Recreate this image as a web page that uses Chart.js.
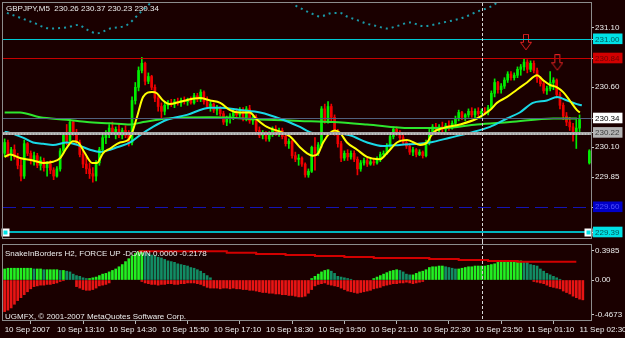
<!DOCTYPE html>
<html>
<head>
<meta charset="utf-8">
<script src="https://cdn.jsdelivr.net/npm/chart.js@4.4.1/dist/chart.umd.min.js"></script>
<style>
  html, body { margin: 0; padding: 0; background: #1a0000; }
  #wrap { position: relative; width: 625px; height: 338px; overflow: hidden; background: #1a0000; }
  canvas { position: absolute; left: 0; }
  #main { top: 0; }
  #ind { top: 241px; }
  .txt { position: absolute; font: 8px "Liberation Sans", Arial, sans-serif; color: #ececec; white-space: pre; line-height: 9px; }
</style>
</head>
<body>
<div id="wrap">
  <canvas id="main" width="625" height="241"></canvas>
  <canvas id="ind" width="625" height="97"></canvas>
  <div class="txt" style="left:6px; top:4px;">GBPJPY,M5  230.26 230.37 230.23 230.34</div>
  <div class="txt" style="left:5px; top:249px;">SnakeInBorders H2, FORCE UP -DOWN 0.0000 -0.2178</div>
  <div class="txt" style="left:5px; top:312px;">UGMFX, © 2001-2007 MetaQuotes Software Corp.</div>
</div>
<script>
// --- data (GBPJPY, M5, one bar every 5 minutes from 10 Sep 11:50) ---
const barCount = 180;
const tickBars = [0, 16, 32, 48, 64, 80, 96, 112, 128, 144, 160, 176];
const tickLabels = ["10 Sep 2007", "10 Sep 13:10", "10 Sep 14:30", "10 Sep 15:50", "10 Sep 17:10", "10 Sep 18:30",
  "10 Sep 19:50", "10 Sep 21:10", "10 Sep 22:30", "10 Sep 23:50", "11 Sep 01:10", "11 Sep 02:30"];
const separatorBar = 146; // 11 Sep 00:00

const opens = [
  230.05,230.14,230.04,230.08,230.02,229.95,229.86,230.13,230.05,229.99,
  230.03,229.95,229.99,229.93,229.96,229.91,229.86,229.92,230.07,230.20,
  230.15,230.31,230.22,230.14,230.04,229.96,229.92,229.88,229.86,229.97,
  230.08,230.18,230.22,230.26,230.23,230.25,230.20,230.24,230.20,230.14,
  230.49,230.60,230.74,230.80,230.65,230.69,230.60,230.51,230.44,230.40,
  230.45,230.47,230.46,230.48,230.47,230.49,230.48,230.50,230.47,230.53,
  230.50,230.56,230.48,230.44,230.46,230.41,230.43,230.38,230.31,230.34,
  230.36,230.39,230.37,230.41,230.34,230.42,230.32,230.35,230.24,230.20,
  230.22,230.17,230.21,230.25,230.22,230.24,230.19,230.13,230.15,230.03,
  230.00,230.01,229.96,229.87,229.90,230.10,230.05,230.12,230.42,230.32,
  230.44,230.35,230.23,230.13,230.01,230.05,230.02,230.05,230.00,229.92,
  229.97,229.99,229.96,229.98,229.97,230.00,230.04,230.05,230.11,230.19,
  230.25,230.22,230.18,230.14,230.11,230.06,230.08,230.04,230.06,230.03,
  230.14,230.22,230.27,230.24,230.27,230.25,230.28,230.26,230.30,230.34,
  230.39,230.35,230.37,230.40,230.37,230.40,230.38,230.40,230.39,230.43,
  230.55,230.64,230.58,230.61,230.66,230.71,230.68,230.70,230.75,230.77,
  230.81,230.75,230.80,230.74,230.67,230.63,230.57,230.59,230.64,230.66,
  230.54,230.45,230.36,230.31,230.27,230.21,230.26,null,null,229.97
];
const highs = [
  230.17,230.16,230.10,230.12,230.05,230.00,230.16,230.14,230.07,230.06,
  230.05,230.02,230.01,229.98,229.99,229.93,229.94,230.09,230.22,230.29,
  230.34,230.32,230.25,230.16,230.07,230.02,229.97,229.93,229.99,230.10,
  230.20,230.24,230.29,230.31,230.27,230.30,230.26,230.28,230.24,230.52,
  230.64,230.77,230.85,230.81,230.72,230.70,230.62,230.54,230.47,230.48,
  230.49,230.50,230.50,230.51,230.51,230.52,230.51,230.52,230.55,230.55,
  230.58,230.57,230.52,230.48,230.47,230.45,230.44,230.40,230.36,230.38,
  230.41,230.42,230.43,230.43,230.44,230.45,230.37,230.37,230.27,230.24,
  230.23,230.23,230.27,230.28,230.26,230.26,230.21,230.17,230.16,230.06,
  230.04,230.02,229.97,229.92,230.11,230.18,230.14,230.44,230.46,230.48,
  230.46,230.37,230.25,230.15,230.07,230.08,230.07,230.07,230.02,229.99,
  230.01,230.01,230.00,230.01,230.02,230.06,230.07,230.13,230.21,230.27,
  230.27,230.24,230.20,230.16,230.13,230.10,230.09,230.08,230.07,230.16,
  230.25,230.29,230.30,230.29,230.31,230.30,230.32,230.32,230.36,230.41,
  230.40,230.38,230.42,230.43,230.42,230.43,230.42,230.43,230.45,230.57,
  230.67,230.65,230.63,230.68,230.73,230.73,230.72,230.77,230.79,230.84,
  230.83,230.82,230.82,230.76,230.69,230.65,230.61,230.73,230.68,230.67,
  230.56,230.47,230.39,230.35,230.30,230.33,230.37,null,null,230.08
];
const lows = [
  230.02,230.02,229.99,230.00,229.92,229.82,229.84,230.03,229.96,229.95,
  229.93,229.91,229.90,229.86,229.88,229.83,229.85,229.90,230.05,230.12,
  230.14,230.20,230.12,230.02,229.93,229.88,229.84,229.81,229.82,229.95,
  230.05,230.13,230.18,230.21,230.17,230.18,230.17,230.18,230.11,230.12,
  230.46,230.57,230.72,230.62,230.63,230.58,230.48,230.40,230.33,230.37,
  230.42,230.44,230.43,230.45,230.44,230.46,230.45,230.46,230.46,230.48,
  230.48,230.46,230.42,230.40,230.39,230.37,230.36,230.29,230.28,230.30,
  230.33,230.34,230.35,230.32,230.32,230.30,230.29,230.22,230.18,230.17,
  230.15,230.15,230.19,230.20,230.19,230.17,230.11,230.09,230.01,229.98,
  229.95,229.94,229.85,229.85,229.89,229.91,230.03,230.10,230.30,230.30,
  230.32,230.20,230.10,229.98,229.99,229.99,230.00,229.98,229.87,229.90,
  229.95,229.94,229.95,229.95,229.96,229.98,230.02,230.04,230.10,230.17,
  230.20,230.16,230.12,230.09,230.04,230.03,230.02,230.03,230.01,230.02,
  230.12,230.20,230.22,230.21,230.23,230.23,230.24,230.25,230.28,230.32,
  230.33,230.32,230.35,230.35,230.34,230.36,230.35,230.37,230.37,230.42,
  230.52,230.55,230.55,230.59,230.64,230.66,230.66,230.68,230.70,230.74,
  230.72,230.73,230.72,230.64,230.61,230.55,230.54,230.57,230.58,230.51,
  230.42,230.33,230.28,230.24,230.15,230.09,230.23,null,null,229.96
];
const closes = [
  230.14,230.04,230.08,230.02,229.95,229.86,230.13,230.05,229.99,230.03,
  229.95,229.99,229.93,229.96,229.91,229.86,229.92,230.07,230.20,230.15,
  230.31,230.22,230.14,230.04,229.96,229.92,229.88,229.86,229.97,230.08,
  230.18,230.22,230.26,230.23,230.25,230.20,230.24,230.20,230.14,230.49,
  230.60,230.74,230.80,230.65,230.69,230.60,230.51,230.44,230.40,230.45,
  230.47,230.46,230.48,230.47,230.49,230.48,230.50,230.47,230.53,230.50,
  230.56,230.48,230.44,230.46,230.41,230.43,230.38,230.31,230.34,230.36,
  230.39,230.37,230.41,230.34,230.42,230.32,230.35,230.24,230.20,230.22,
  230.17,230.21,230.25,230.22,230.24,230.19,230.13,230.15,230.03,230.00,
  230.01,229.96,229.87,229.90,230.10,230.05,230.12,230.42,230.32,230.44,
  230.35,230.23,230.13,230.01,230.05,230.02,230.05,230.00,229.92,229.97,
  229.99,229.96,229.98,229.97,230.00,230.04,230.05,230.11,230.19,230.25,
  230.22,230.18,230.14,230.11,230.06,230.08,230.04,230.06,230.03,230.14,
  230.22,230.27,230.24,230.27,230.25,230.28,230.26,230.30,230.34,230.39,
  230.35,230.37,230.40,230.37,230.40,230.38,230.40,230.39,230.43,230.55,
  230.64,230.58,230.61,230.66,230.71,230.68,230.70,230.75,230.77,230.81,
  230.75,230.80,230.74,230.67,230.63,230.57,230.59,230.64,230.66,230.54,
  230.45,230.36,230.31,230.27,230.21,230.26,230.34,null,null,230.07
];

// moving averages, read as [bar, price] points
const fastMa = [
  [0,230.02],[1.7,230.04],[4.7,230.01],[8.7,229.99],[11.8,229.97],[14.8,229.98],[17,230.01],[19.1,230.10],
  [20.9,230.15],[22.5,230.14],[24.6,230.05],[26.8,229.97],[28.3,229.97],[30.1,230.05],[32.3,230.09],[35.3,230.14],
  [37.8,230.16],[39,230.22],[40.5,230.35],[42.4,230.52],[45.1,230.56],[46.6,230.55],[48.5,230.49],[50.6,230.46],
  [53.7,230.48],[59.8,230.51],[62.9,230.49],[66,230.47],[69,230.41],[72,230.39],[75,230.39],[77.3,230.33],
  [80.3,230.27],[84.3,230.23],[87.4,230.19],[90.4,230.10],[92.6,230.05],[94.4,230.03],[96,230.05],[97.5,230.14],
  [99.6,230.22],[101.1,230.24],[102.7,230.22],[104.8,230.14],[107.9,230.08],[110.9,230.02],[114.9,230.00],[117,230.05],
  [120.1,230.14],[123.2,230.16],[127.2,230.12],[129.3,230.14],[131.1,230.22],[134.2,230.26],[139.4,230.29],[144.6,230.34],
  [148.6,230.41],[150.7,230.47],[153.8,230.52],[156.8,230.58],[159.9,230.64],[163,230.70],[164.8,230.66],[166.9,230.62],
  [169.1,230.60],[171,230.56],[173,230.49],[175.2,230.41],[176.1,230.39]
];
const midMa = [
  [0,230.23],[1.7,230.22],[5.6,230.18],[8.7,230.14],[11.8,230.13],[14.8,230.12],[19.1,230.14],[22.2,230.12],
  [26.1,230.08],[29.2,230.06],[32.3,230.08],[34.4,230.10],[38.4,230.14],[41.4,230.20],[45.4,230.27],[49.7,230.33],
  [55.8,230.37],[62.9,230.43],[66,230.43],[72,230.41],[78.2,230.39],[85.2,230.33],[90.4,230.27],[94.4,230.22],
  [100.5,230.22],[105.7,230.20],[111,230.14],[115.8,230.11],[121,230.12],[130.2,230.14],[136.3,230.18],[142.4,230.22],
  [148.6,230.27],[153.8,230.34],[157.7,230.39],[161.7,230.47],[166,230.49],[169.1,230.52],[172.2,230.49],[175.2,230.46],
  [176.7,230.45]
];
const slowMa = [
  [0,230.39],[4.7,230.39],[10.8,230.35],[19.1,230.33],[25.2,230.31],[32.3,230.30],[38.4,230.29],[42.4,230.31],
  [49.7,230.34],[62.9,230.35],[80.3,230.33],[90.4,230.32],[100.5,230.31],[110.9,230.29],[124,230.26],[134.2,230.26],
  [144.6,230.29],[154.7,230.31],[167.9,230.34],[175.2,230.34]
];
const upperBand = [
  [0.7,231.22],[4.7,231.18],[8.7,231.14],[13.9,231.09],[19.1,231.10],[22.5,231.12],[25.2,231.08],[28.3,231.05],
  [32.3,231.09],[37.5,231.12],[41.4,231.22],[44.5,231.30],[47,231.40],[86,231.40],[88.3,231.30],[91.3,231.25],
  [94.4,231.21],[96.5,231.19],[100.5,231.22],[102.7,231.22],[104.8,231.19],[107.9,231.16],[110.9,231.13],[114,231.11],
  [117,231.09],[120.1,231.11],[124.1,231.14],[128.1,231.11],[134.2,231.14],[140.3,231.18],[144.6,231.23],[148.6,231.27],
  [151,231.31],[153,231.36]
];
const arrowBars = [159.6, 169.2];
const arrowPrices = [230.975, 230.805];

// horizontal price levels and the price axis ticks
const levelPrices = [231.00, 230.84, 230.34, 230.22, 229.60, 229.39];
const priceTicks = [231.10, 231.00, 230.84, 230.60, 230.34, 230.22, 230.10, 229.85, 229.60, 229.39];
const priceTickLabels = ["231.10", "231.00", "230.84", "230.60", "230.34", "230.22", "230.10", "229.85", "229.60", "229.39"];

// lower pane: FORCE UP / DOWN histogram and the stepped border line
const forceUp = [
  0.15,0.16,0.16,0.16,0.16,0.16,0.16,0.16,0.16,0.15,
  0.15,0.15,0.14,0.14,0.14,0.14,0.14,0.13,0.13,0.12,
  0.11,0.08,0.06,0.05,0.03,0.02,0.02,0.03,0.04,0.06,
  0.08,0.09,0.11,0.13,0.15,0.18,0.21,0.25,0.29,0.33,
  0.36,0.39,0.40,0.38,0.36,0.34,0.33,0.31,0.30,0.28,
  0.26,0.25,0.24,0.22,0.21,0.20,0.19,0.17,0.16,0.14,
  0.12,0.09,0.06,0.03,0,0,0,0,0,0,
  0,0,0,0,0,0,0,0,0,0,
  0,0,0,0,0,0,0,0,0,0,
  0,0,0,0,0.02,0.05,0.08,0.11,0.13,0.14,
  0.12,0.09,0.05,0.04,0.03,0.02,0.01,0,0,0,
  0,0,0,0.02,0.04,0.06,0.08,0.10,0.12,0.13,
  0.14,0.13,0.11,0.08,0.07,0.07,0.09,0.11,0.12,0.14,
  0.17,0.18,0.18,0.19,0.19,0.18,0.17,0.16,0.15,0.15,
  0.16,0.17,0.18,0.18,0.19,0.19,0.19,0.19,0.20,0.21,
  0.22,0.24,0.25,0.25,0.26,0.26,0.26,0.26,0.26,0.25,
  0.24,0.21,0.20,0.19,0.15,0.12,0.09,0.07,0.05,0.03,
  0.01,0,0,0,0,0,0,0,0,0
];
const forceDown = [
  0.43,0.41,0.38,0.33,0.28,0.24,0.20,0.16,0.12,0.09,
  0.08,0.07,0.07,0.06,0.06,0.05,0.04,0.02,0.01,0,
  0,0,0.09,0.11,0.13,0.14,0.14,0.13,0.11,0.08,
  0.07,0.06,0.04,0,0,0,0,0,0,0,
  0,0,0.02,0.04,0.05,0.06,0.06,0.07,0.06,0.06,
  0.05,0.05,0.06,0.06,0.05,0.05,0.04,0.04,0.04,0.05,
  0.06,0.08,0.10,0.11,0.11,0.11,0.12,0.11,0.11,0.12,
  0.11,0.12,0.12,0.13,0.13,0.14,0.14,0.15,0.16,0.17,
  0.17,0.18,0.18,0.19,0.19,0.20,0.20,0.21,0.21,0.22,
  0.23,0.23,0.22,0.18,0.13,0.08,0.06,0.05,0.04,0.06,
  0.07,0.08,0.09,0.11,0.13,0.15,0.16,0.17,0.18,0.17,
  0.16,0.15,0.14,0.12,0.11,0.10,0.08,0.07,0.06,0.05,
  0.05,0.04,0.04,0.03,0.04,0.05,0.04,0.03,0.02,0,
  0,0,0,0,0,0,0,0,0,0,
  0,0,0,0,0,0,0,0,0,0,
  0,0,0,0,0,0,0,0,0,0,
  0,0,0.02,0.03,0.04,0.05,0.07,0.09,0.10,0.11,
  0.12,0.15,0.17,0.19,0.22,0.24,0.26,0.27,0,0
];
const forceBorder = [
  [41,0.39],[68,0.37],[77,0.355],[86,0.34],[95,0.327],[104,0.313],[113,0.30],
  [130,0.286],[139,0.272],[148,0.258],[157,0.249],[175,0.249]
];
const forceTicks = [0.3985, 0, -0.4673];
const forceTickLabels = ["0.3985", "0.00", "-0.4673"];

// --- styles ---
const BG = "#1a0000";
const UP = "#00ee00";
const DOWN = "#f00000";
const FRAME = "#8c8c8c";
const levelStyles = [
  { color: "#00c8d2", width: 1, dash: [] },
  { color: "#c80000", width: 1, dash: [] },
  { color: "#50607e", width: 1, dash: [] },
  { color: "#a6a6a6", width: 3, dash: [] },
  { color: "#1414b4", width: 1, dash: [13, 6] },
  { color: "#00b4be", width: 2, dash: [] }
];
const labelBoxes = {
  "231.00": { bg: "#00e1e6", fg: "#005a5a" },
  "230.84": { bg: "#d20000", fg: "#6e0000" },
  "230.34": { bg: "#ffffff", fg: "#000000" },
  "230.22": { bg: "#b4b4b4", fg: "#3c3c3c" },
  "229.60": { bg: "#0000c8", fg: "#5050ff" },
  "229.39": { bg: "#00e1e6", fg: "#005a5a" }
};

Chart.defaults.font.family = "'Liberation Sans', Arial, sans-serif";
Chart.defaults.font.size = 8;
Chart.defaults.color = "#ececec";

// Draws a hollow down arrow, used as point style for the two signal marks.
function makeArrow() {
  const c = document.createElement("canvas");
  c.width = 12;
  c.height = 17;
  const g = c.getContext("2d");
  g.strokeStyle = "#e02020";
  g.lineWidth = 1;
  g.beginPath();
  g.moveTo(3.5, 0.5);
  g.lineTo(8.5, 0.5);
  g.lineTo(8.5, 8.5);
  g.lineTo(11.5, 8.5);
  g.lineTo(6, 16);
  g.lineTo(0.5, 8.5);
  g.lineTo(3.5, 8.5);
  g.closePath();
  g.stroke();
  return c;
}

// gray frame round each pane
const framePlugin = {
  id: "frame",
  afterDraw(chart) {
    const { ctx, chartArea: a } = chart;
    ctx.save();
    ctx.strokeStyle = FRAME;
    ctx.lineWidth = 1;
    ctx.strokeRect(Math.round(a.left) - 0.5, Math.round(a.top) - 0.5, Math.round(a.width) + 1, Math.round(a.height) + 1);
    ctx.restore();
  }
};

// dashed day separator at 11 Sep 00:00
function separatorPlugin(fromTop, toBottom) {
  return {
    id: "separator",
    afterDatasetsDraw(chart) {
      const { ctx, chartArea: a, scales: { x } } = chart;
      const px = Math.round(x.getPixelForValue(separatorBar)) + 0.5;
      ctx.save();
      ctx.strokeStyle = "#d8d8d8";
      ctx.lineWidth = 1;
      ctx.setLineDash([3, 2]);
      ctx.beginPath();
      ctx.moveTo(px, fromTop ? 0 : a.top);
      ctx.lineTo(px, toBottom ? chart.height : a.bottom);
      ctx.stroke();
      ctx.restore();
    }
  };
}

// horizontal levels (objects of the chart), drawn through the price scale
const levelsPlugin = {
  id: "levels",
  afterDatasetsDraw(chart) {
    const { ctx, chartArea: a, scales: { y } } = chart;
    ctx.save();
    levelPrices.forEach((p, k) => {
      const st = levelStyles[k];
      const py = Math.round(y.getPixelForValue(p)) + (st.width % 2 ? 0.5 : 0);
      ctx.strokeStyle = st.color;
      ctx.lineWidth = st.width;
      ctx.setLineDash(st.dash);
      ctx.beginPath();
      ctx.moveTo(a.left, py);
      ctx.lineTo(a.right, py);
      ctx.stroke();
      if (st.width === 3) {
        // dotted texture of the thick gray line
        ctx.strokeStyle = "#dcdcdc";
        ctx.lineWidth = 1;
        ctx.setLineDash([1, 2]);
        ctx.beginPath();
        ctx.moveTo(a.left, py + 0.5);
        ctx.lineTo(a.right, py + 0.5);
        ctx.stroke();
      }
    });
    // the selected trend line at 229.39 shows its two end handles
    const py = Math.round(y.getPixelForValue(levelPrices[5]));
    ctx.setLineDash([]);
    ctx.fillStyle = "#00e1e6";
    ctx.strokeStyle = "#ffffff";
    [a.left + 2, a.right - 3].forEach((hx) => {
      ctx.fillRect(hx - 2, py - 2, 5, 5);
      ctx.strokeRect(hx - 2.5, py - 2.5, 6, 6);
    });
    ctx.restore();
  }
};

document.addEventListener("DOMContentLoaded", () => {
  // candles: a thin bar for the wick and a wider bar for the body
  const wicks = [];
  const bodies = [];
  const candleColors = [];
  for (let i = 0; i < barCount; i++) {
    if (opens[i] === null) continue;
    wicks.push({ x: i, y: [lows[i], highs[i]] });
    bodies.push({ x: i, y: [opens[i], closes[i]] });
    candleColors.push(closes[i] >= opens[i] ? UP : DOWN);
  }
  const pts = (arr) => arr.map(([x, y]) => ({ x, y }));

  const xMin = -0.5;
  const xMax = barCount - 0.5;

  new Chart(document.getElementById("main"), {
    type: "bar",
    data: {
      datasets: [
        { type: "bar", data: wicks, backgroundColor: candleColors, barThickness: 1, grouped: false, order: 5 },
        { type: "bar", data: bodies, backgroundColor: candleColors, barThickness: 2, minBarLength: 1, grouped: false, order: 4 },
        { type: "line", data: pts(slowMa), borderColor: "#2ee62e", borderWidth: 2, pointRadius: 0, cubicInterpolationMode: "monotone", order: 3 },
        { type: "line", data: pts(midMa), borderColor: "#19d9e6", borderWidth: 2, pointRadius: 0, cubicInterpolationMode: "monotone", order: 2 },
        { type: "line", data: pts(fastMa), borderColor: "#ffff00", borderWidth: 2, pointRadius: 0, cubicInterpolationMode: "monotone", order: 1 },
        { type: "line", data: pts(upperBand), borderColor: "#1a9aa8", borderWidth: 2, borderDash: [2, 4], pointRadius: 0, cubicInterpolationMode: "monotone", order: 1 },
        {
          type: "scatter",
          data: arrowBars.map((x, k) => ({ x, y: arrowPrices[k] })),
          pointStyle: makeArrow(),
          pointRadius: 6,
          order: 0
        }
      ]
    },
    options: {
      responsive: false,
      animation: false,
      events: [],
      layout: { autoPadding: false, padding: { left: 3, top: 3, right: 0, bottom: 3 } },
      plugins: { legend: { display: false }, tooltip: { enabled: false } },
      scales: {
        x: { type: "linear", min: xMin, max: xMax, offset: false, display: false },
        y: {
          position: "right",
          min: 229.344,
          max: 231.3025,
          afterFit: (s) => { s.width = 34; s.paddingTop = 0; s.paddingBottom = 0; },
          afterBuildTicks: (s) => { s.ticks = priceTicks.map((v) => ({ value: v })); },
          border: { display: false },
          grid: { drawOnChartArea: false, tickLength: 3, color: "#c8c8c8" },
          ticks: {
            autoSkip: false,
            padding: 1,
            callback: (v, i) => priceTickLabels[i],
            color: (c) => (labelBoxes[priceTickLabels[c.index]] || { fg: "#ececec" }).fg,
            showLabelBackdrop: (c) => !!labelBoxes[priceTickLabels[c.index]],
            backdropColor: (c) => (labelBoxes[priceTickLabels[c.index]] || { bg: BG }).bg,
            backdropPadding: { top: 1, bottom: 0, left: 2, right: 3 }
          }
        }
      }
    },
    plugins: [levelsPlugin, separatorPlugin(false, true), framePlugin]
  });

  // lower pane: bright bars while the force grows, darker while it fades
  const upBars = [];
  const upColors = [];
  const downBars = [];
  for (let i = 0; i < barCount; i++) {
    if (forceUp[i] > 0) {
      upBars.push({ x: i, y: forceUp[i] });
      upColors.push(i > 0 && forceUp[i] < forceUp[i - 1] ? "#128c64" : "#22f022");
    }
    if (forceDown[i] > 0) {
      downBars.push({ x: i, y: -forceDown[i] });
    }
  }

  new Chart(document.getElementById("ind"), {
    type: "bar",
    data: {
      datasets: [
        { type: "bar", data: upBars, backgroundColor: upColors, barThickness: 2, grouped: false, order: 3 },
        { type: "bar", data: downBars, backgroundColor: "#e81414", barThickness: 2, grouped: false, order: 2 },
        { type: "line", data: pts(forceBorder), borderColor: "#d20000", borderWidth: 2, pointRadius: 0, stepped: true, order: 1 }
      ]
    },
    options: {
      responsive: false,
      animation: false,
      events: [],
      layout: { autoPadding: false, padding: { left: 3, top: 4, right: 0, bottom: 0 } },
      plugins: { legend: { display: false }, tooltip: { enabled: false } },
      scales: {
        x: {
          type: "linear",
          min: xMin,
          max: xMax,
          offset: false,
          afterFit: (s) => { s.height = 18; s.paddingLeft = 0; s.paddingRight = 0; },
          afterBuildTicks: (s) => { s.ticks = tickBars.map((v) => ({ value: v })); },
          border: { display: false },
          grid: { drawOnChartArea: false, tickLength: 4, color: "#b4b4b4" },
          ticks: {
            autoSkip: false,
            maxRotation: 0,
            align: "start",
            padding: 1,
            color: "#f0f0f0",
            callback: (v) => tickLabels[tickBars.indexOf(v)]
          }
        },
        y: {
          position: "right",
          min: -0.544,
          max: 0.476,
          afterFit: (s) => { s.width = 34; s.paddingTop = 0; s.paddingBottom = 0; },
          afterBuildTicks: (s) => { s.ticks = forceTicks.map((v) => ({ value: v })); },
          border: { display: false },
          grid: { drawOnChartArea: false, tickLength: 3, color: "#c8c8c8" },
          ticks: { autoSkip: false, padding: 1, callback: (v, i) => forceTickLabels[i] }
        }
      }
    },
    plugins: [separatorPlugin(true, false), framePlugin]
  });
});
</script>
</body>
</html>
